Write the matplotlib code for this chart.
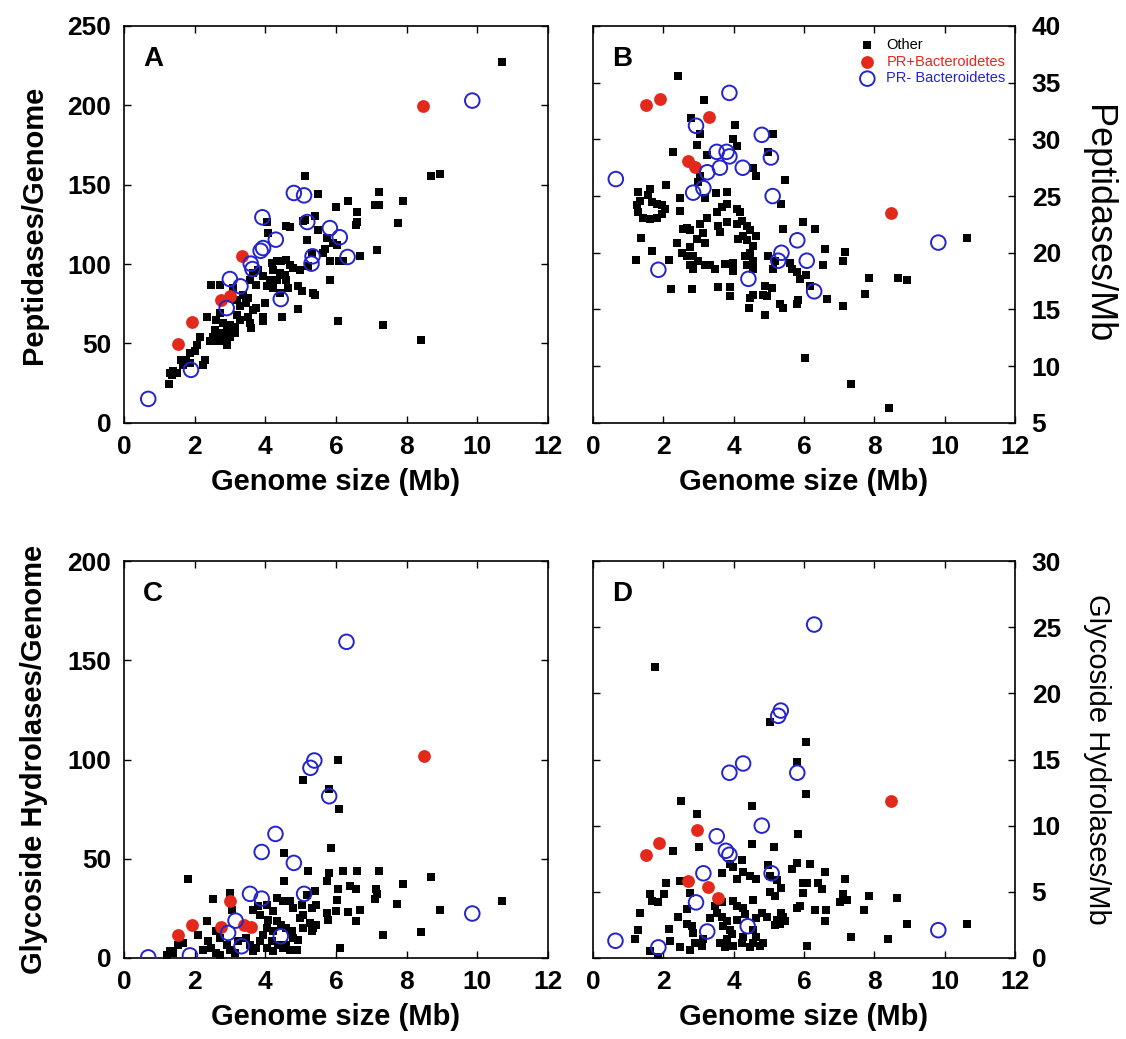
import numpy as np
import matplotlib.pyplot as plt

plt.rcParams['font.family'] = ['Liberation Sans', 'DejaVu Sans']

# genome size (Mb), value  --  one list per panel and group

# A: peptidases per genome
a_other = [(10.69, 227.4), (5.14, 155.3), (5.48, 144.2), (8.68, 155.3), (8.94, 156.8), (7.22, 145.4),
           (7.89, 139.8), (6.35, 139.8), (6.00, 135.8), (6.61, 132.8), (7.10, 137.0), (7.23, 137.0),
           (6.60, 126.3), (6.57, 124.8), (7.75, 125.9), (5.41, 130.1), (5.06, 126.9), (5.12, 128.0),
           (4.58, 123.8), (4.70, 123.4), (4.04, 126.3), (4.08, 119.6), (5.50, 121.7), (5.75, 116.4),
           (5.92, 113.3), (6.02, 112.2), (7.15, 109.1), (6.68, 104.9), (5.69, 109.5), (5.64, 107.0),
           (5.83, 101.7), (6.09, 101.7), (6.21, 101.7), (5.17, 115.4), (5.31, 107.0), (5.22, 98.6),
           (4.98, 96.5), (4.79, 97.5), (5.83, 90.2), (6.07, 64.3), (7.34, 61.8), (8.41, 51.9),
           (4.93, 86.0), (5.03, 82.8), (5.36, 81.8), (5.41, 80.7), (4.93, 71.7), (4.48, 66.6),
           (3.94, 63.9), (3.94, 67.0), (3.99, 75.5), (3.75, 72.3), (4.18, 100.7), (4.32, 101.7),
           (4.46, 101.7), (4.60, 102.8), (4.70, 99.6), (4.23, 96.5), (4.42, 94.4), (4.56, 93.3),
           (4.32, 90.2), (4.13, 90.2), (3.94, 92.3), (3.80, 96.5), (3.66, 94.4), (3.57, 90.2),
           (3.75, 87.0), (4.04, 86.0), (4.23, 84.9), (4.60, 90.2), (4.65, 84.9), (4.42, 81.8),
           (2.48, 87.0), (2.72, 87.0), (3.09, 84.9), (3.19, 77.6), (3.38, 80.7), (3.47, 75.5),
           (3.52, 78.6), (3.28, 73.4), (3.66, 71.2), (3.19, 68.1), (3.28, 64.9), (3.57, 62.8),
           (3.61, 59.7), (3.52, 67.0), (2.72, 69.1), (2.62, 64.9), (2.81, 62.8), (3.00, 61.8),
           (3.14, 60.7), (2.91, 58.6), (2.72, 56.5), (2.58, 58.6), (2.53, 54.4), (2.43, 51.3),
           (2.58, 51.3), (2.72, 51.3), (2.91, 49.2), (2.81, 53.4), (3.00, 54.4), (3.14, 56.5),
           (2.36, 66.6), (2.15, 54.4), (2.08, 49.2), (2.01, 45.0), (1.87, 43.9), (1.77, 39.7),
           (1.87, 37.6), (1.63, 39.7), (1.68, 36.6), (2.25, 36.6), (2.29, 39.7), (1.40, 32.4),
           (1.30, 31.3), (1.49, 31.3), (1.28, 24.6), (1.35, 30.3)]
a_pr_plus = [(8.47, 199.5), (3.33, 105.3), (2.76, 77.6), (3.00, 79.7), (1.92, 63.3), (1.54, 49.6)]
a_pr_minus = [(0.69, 15.1), (1.90, 33.4), (9.86, 203.0), (4.81, 144.8), (5.10, 143.3), (3.92, 129.5),
              (5.19, 126.5), (4.30, 115.4), (5.83, 122.7), (6.11, 116.9), (6.33, 104.5), (3.87, 108.4),
              (3.94, 110.1), (3.59, 100.3), (3.64, 96.9), (3.00, 90.6), (3.30, 86.0), (2.91, 72.3),
              (4.44, 78.0), (5.34, 104.9), (5.31, 100.3)]

# B: peptidases per Mb
b_other = [(2.43, 35.6), (3.17, 33.5), (2.79, 31.9), (3.04, 30.5), (4.04, 31.3), (5.11, 30.5),
           (3.97, 30.0), (2.97, 29.5), (2.28, 28.9), (4.09, 29.4), (3.23, 28.6), (4.99, 28.9),
           (4.56, 27.5), (4.65, 26.8), (5.46, 26.4), (2.09, 26.0), (1.29, 25.4), (1.62, 25.6),
           (1.57, 25.1), (1.67, 24.5), (1.81, 24.3), (1.95, 24.2), (2.05, 23.9), (1.95, 23.4),
           (1.81, 23.1), (1.62, 23.0), (1.43, 23.1), (1.29, 23.6), (1.24, 24.2), (1.34, 24.6),
           (3.04, 26.8), (3.00, 26.2), (2.47, 24.8), (2.47, 23.7), (3.50, 25.3), (3.82, 25.4),
           (3.18, 24.8), (5.36, 24.3), (3.66, 24.0), (3.80, 24.3), (3.52, 23.6), (3.23, 23.1),
           (3.04, 22.5), (2.66, 22.2), (2.57, 22.1), (2.76, 22.0), (4.09, 23.9), (4.18, 23.6),
           (4.23, 22.8), (4.09, 22.5), (4.37, 22.4), (4.46, 22.0), (4.65, 21.5), (4.27, 21.5),
           (4.13, 21.2), (4.37, 21.1), (4.56, 20.6), (4.46, 20.0), (4.32, 19.7), (4.56, 19.3),
           (4.37, 18.9), (4.56, 18.6), (3.56, 22.4), (3.80, 22.7), (3.61, 21.8), (3.14, 21.7),
           (2.95, 21.2), (3.18, 20.9), (2.38, 20.9), (2.52, 20.0), (2.76, 20.5), (1.38, 21.3),
           (1.67, 20.2), (2.16, 19.4), (1.21, 19.4), (2.66, 19.7), (2.85, 19.7), (3.00, 19.3),
           (3.18, 18.9), (3.33, 18.9), (3.47, 18.6), (2.76, 18.9), (2.85, 18.6), (3.75, 19.0),
           (3.99, 19.1), (3.99, 18.4), (5.41, 22.1), (5.98, 22.7), (6.31, 22.1), (4.99, 19.7),
           (5.18, 19.3), (5.13, 18.6), (5.60, 19.1), (5.65, 18.6), (5.79, 18.3), (5.89, 17.7),
           (6.60, 20.3), (7.18, 20.1), (7.12, 19.3), (6.55, 18.9), (6.06, 18.0), (6.17, 17.1),
           (6.66, 15.9), (7.12, 15.3), (7.73, 16.4), (7.86, 17.8), (8.66, 17.8), (8.94, 17.6),
           (10.65, 21.3), (2.21, 16.8), (2.83, 16.8), (3.56, 17.0), (3.90, 17.0), (3.90, 16.2),
           (4.46, 16.0), (4.56, 16.3), (4.89, 17.1), (5.08, 16.9), (4.84, 16.3), (4.94, 16.2),
           (4.45, 15.1), (4.89, 14.5), (5.32, 15.5), (5.39, 15.1), (5.79, 15.5), (5.84, 15.8),
           (6.03, 10.7), (7.34, 8.4), (8.42, 6.3)]
b_pr_plus = [(1.50, 33.0), (1.91, 33.6), (3.30, 32.0), (2.71, 28.1), (2.90, 27.6), (8.47, 23.5)]
b_pr_minus = [(0.65, 26.5), (3.88, 34.1), (2.93, 31.2), (4.80, 30.4), (5.06, 28.4), (3.52, 28.9),
              (3.80, 28.9), (3.88, 28.5), (3.61, 27.5), (3.25, 27.1), (4.26, 27.5), (3.14, 25.7),
              (2.85, 25.3), (5.11, 25.0), (5.81, 21.1), (5.36, 20.0), (5.27, 19.3), (6.08, 19.3),
              (1.86, 18.5), (4.42, 17.7), (6.29, 16.6), (9.82, 20.9)]

# C: glycoside hydrolases per genome
c_other = [(1.82, 39.8), (6.07, 99.7), (5.06, 89.6), (5.81, 85.2), (6.08, 75.3), (5.86, 55.5),
           (4.54, 52.9), (5.20, 44.0), (5.81, 42.9), (6.21, 44.0), (6.60, 44.0), (7.22, 44.0),
           (4.54, 38.7), (5.74, 38.7), (6.40, 36.1), (6.58, 34.5), (6.07, 34.5), (7.89, 37.3),
           (8.68, 40.8), (7.13, 34.5), (7.10, 29.9), (7.15, 32.3), (7.74, 27.4), (8.94, 24.0),
           (10.69, 28.6), (7.34, 11.8), (8.41, 13.1), (6.58, 18.5), (6.68, 24.0), (6.35, 23.0),
           (6.02, 29.4), (6.00, 23.5), (5.74, 22.7), (5.78, 19.3), (5.41, 33.9), (5.45, 26.9),
           (5.31, 25.2), (5.17, 31.9), (5.03, 26.9), (5.08, 21.8), (4.98, 20.2), (5.36, 15.1),
           (5.31, 13.4), (5.26, 17.6), (5.45, 16.8), (5.08, 15.1), (4.93, 9.2), (6.11, 5.0),
           (2.53, 29.7), (3.00, 32.8), (3.05, 24.4), (3.66, 24.4), (3.80, 26.1), (4.04, 26.9),
           (4.32, 30.3), (4.51, 28.6), (4.70, 28.6), (4.79, 25.2), (4.23, 23.5), (4.32, 18.5),
           (4.08, 19.3), (3.85, 21.8), (2.34, 18.5), (2.10, 11.8), (1.68, 7.6), (1.54, 6.7),
           (1.30, 3.4), (1.40, 2.5), (1.21, 1.7), (2.39, 8.4), (2.25, 4.2), (2.48, 5.0),
           (2.62, 2.5), (2.72, 1.7), (2.91, 6.7), (3.00, 4.2), (3.14, 2.5), (3.24, 8.4),
           (2.72, 10.1), (2.62, 13.4), (3.47, 10.1), (3.57, 6.7), (3.66, 3.4), (3.75, 5.0),
           (3.85, 8.4), (3.94, 11.8), (4.04, 15.1), (4.04, 5.0), (4.18, 8.4), (4.23, 3.4),
           (4.37, 6.7), (4.51, 5.0), (4.60, 6.7), (4.70, 4.2), (4.79, 10.1), (4.89, 4.2),
           (4.75, 13.4), (4.60, 15.1), (4.46, 16.8), (4.23, 13.4)]
c_pr_plus = [(8.49, 102.0), (3.00, 28.6), (1.93, 16.5), (1.54, 11.8), (2.76, 15.5), (3.41, 16.8),
             (3.61, 15.6)]
c_pr_minus = [(0.69, 0.3), (1.87, 1.3), (6.30, 159.3), (5.39, 99.5), (5.28, 95.8), (5.81, 81.5),
              (4.29, 62.5), (3.90, 53.4), (4.81, 47.9), (3.57, 32.3), (3.90, 29.9), (5.10, 32.3),
              (9.86, 22.4), (3.16, 18.8), (2.95, 12.6), (3.33, 5.9), (4.44, 10.9)]

# D: glycoside hydrolases per Mb
d_other = [(1.76, 22.0), (5.03, 17.8), (6.06, 16.3), (5.79, 14.8), (6.05, 12.4), (2.49, 11.9),
           (4.51, 11.5), (2.97, 10.9), (5.84, 9.4), (3.02, 8.4), (4.51, 8.6), (5.16, 8.4),
           (2.28, 8.1), (4.23, 7.4), (3.90, 7.1), (3.99, 6.9), (3.66, 6.4), (4.09, 6.0),
           (4.27, 6.5), (4.46, 6.2), (4.65, 6.0), (4.99, 7.0), (5.03, 6.2), (5.22, 5.9),
           (5.36, 5.3), (5.03, 5.0), (5.18, 4.7), (5.65, 6.7), (5.79, 7.2), (6.17, 7.1),
           (6.60, 6.5), (7.18, 6.0), (5.98, 5.7), (6.08, 5.7), (6.41, 5.7), (6.50, 5.2),
           (5.98, 4.9), (2.08, 5.7), (2.02, 4.8), (1.62, 4.8), (1.67, 4.3), (1.86, 4.2),
           (2.47, 5.8), (2.76, 4.9), (7.86, 4.7), (8.65, 4.5), (7.12, 4.8), (7.02, 4.2),
           (7.21, 4.4), (8.94, 2.6), (10.65, 2.6), (7.33, 1.6), (8.40, 1.4), (6.10, 0.9),
           (7.72, 3.6), (6.64, 3.6), (6.31, 3.6), (5.79, 3.8), (5.89, 3.9), (6.60, 2.8),
           (5.41, 3.1), (5.22, 2.9), (5.32, 2.6), (5.18, 2.5), (5.46, 2.8), (5.36, 3.4),
           (1.34, 3.4), (1.29, 2.1), (1.19, 1.4), (2.16, 2.2), (2.19, 1.3), (2.43, 3.1),
           (2.66, 3.7), (2.66, 2.6), (2.81, 2.4), (2.85, 1.9), (2.47, 0.8), (2.76, 0.6),
           (2.90, 1.1), (3.09, 0.9), (3.14, 1.4), (3.33, 3.0), (3.52, 3.4), (3.66, 3.1),
           (3.71, 2.4), (3.80, 2.8), (3.90, 2.1), (3.94, 1.8), (3.80, 1.4), (3.61, 1.1),
           (3.75, 0.8), (3.99, 0.9), (4.09, 2.9), (4.27, 3.8), (4.32, 3.3), (4.56, 4.4),
           (4.56, 2.1), (4.65, 1.6), (4.56, 1.1), (4.46, 0.8), (4.75, 0.9), (4.84, 1.1),
           (4.23, 1.1), (4.27, 1.6), (3.99, 4.3), (4.09, 3.9), (3.66, 4.2), (3.47, 3.9),
           (1.86, 0.1), (1.62, 0.5), (4.94, 3.1), (4.80, 3.4), (4.65, 3.0)]
d_pr_plus = [(8.47, 11.9), (2.95, 9.7), (1.89, 8.7), (1.50, 7.8), (2.71, 5.8), (3.28, 5.4),
             (3.56, 4.5)]
d_pr_minus = [(0.64, 1.3), (1.86, 0.8), (6.29, 25.2), (5.34, 18.7), (5.27, 18.3), (4.27, 14.7),
              (3.88, 14.0), (5.81, 14.0), (4.80, 10.0), (3.52, 9.2), (3.78, 8.1), (3.88, 7.8),
              (3.14, 6.4), (5.08, 6.4), (2.93, 4.2), (3.25, 2.0), (4.40, 2.4), (9.82, 2.1)]

RED = '#e3281c'
BLUE = '#2424cc'

fig = plt.figure(figsize=(11.26, 10.39), dpi=100)
axA = fig.add_axes([0.110, 0.593, 0.3766, 0.382])
axB = fig.add_axes([0.5266, 0.593, 0.3748, 0.382])
axC = fig.add_axes([0.110, 0.078, 0.3766, 0.382])
axD = fig.add_axes([0.5266, 0.078, 0.3748, 0.382])


def draw(ax, other, plus, minus):
    o = np.array(other)
    p = np.array(plus)
    m = np.array(minus)
    h1 = ax.scatter(o[:, 0], o[:, 1], marker='s', s=28, color='black', linewidths=0, zorder=2)
    h2 = ax.scatter(p[:, 0], p[:, 1], marker='o', s=85, color=RED, linewidths=0, zorder=3)
    h3 = ax.scatter(m[:, 0], m[:, 1], marker='o', s=110, facecolors='none',
                    edgecolors=BLUE, linewidths=1.4, zorder=4)
    return h1, h2, h3


def style(ax, ylim, yticks, letter, side):
    ax.set_xlim(0, 12)
    ax.set_xticks(range(0, 13, 2))
    ax.set_ylim(*ylim)
    ax.set_yticks(yticks)
    ax.tick_params(direction='in', top=True, right=True, length=5, width=1,
                   labelsize=19, pad=9)
    if side == 'right':
        ax.yaxis.tick_right()
        ax.yaxis.set_label_position('right')
        ax.tick_params(axis='y', left=True, right=True, pad=12)
    for lab in ax.get_xticklabels() + ax.get_yticklabels():
        lab.set_fontweight('bold')
    for sp in ax.spines.values():
        sp.set_linewidth(1.2)
    ax.set_xlabel('Genome size (Mb)', fontsize=21, fontweight='bold', labelpad=6)
    ax.text(0.045, 0.95, letter, transform=ax.transAxes, fontsize=20,
            fontweight='bold', ha='left', va='top')


draw(axA, a_other, a_pr_plus, a_pr_minus)
handles = draw(axB, b_other, b_pr_plus, b_pr_minus)
draw(axC, c_other, c_pr_plus, c_pr_minus)
draw(axD, d_other, d_pr_plus, d_pr_minus)

style(axA, (0, 250), range(0, 251, 50), 'A', 'left')
style(axB, (5, 40), range(5, 41, 5), 'B', 'right')
style(axC, (0, 200), range(0, 201, 50), 'C', 'left')
style(axD, (0, 30), range(0, 31, 5), 'D', 'right')

axA.set_ylabel('Peptidases/Genome', fontsize=21, fontweight='bold', labelpad=14)
axB.set_ylabel('Peptidases/Mb', fontsize=26, labelpad=14, rotation=270, va='bottom')
axC.set_ylabel('Glycoside Hydrolases/Genome', fontsize=21, fontweight='bold', labelpad=14)
axD.set_ylabel('Glycoside Hydrolases/Mb', fontsize=21, labelpad=16, rotation=270, va='bottom')

axB.legend(handles, ['Other', 'PR+Bacteroidetes', 'PR- Bacteroidetes'],
           loc='upper left', bbox_to_anchor=(0.588, 1.0), frameon=False, fontsize=10.5,
           labelcolor=['black', RED, BLUE], handletextpad=0.3, labelspacing=0.2,
           borderpad=0.3, scatterpoints=1)

fig.savefig('out.png', dpi=100, facecolor='white')
